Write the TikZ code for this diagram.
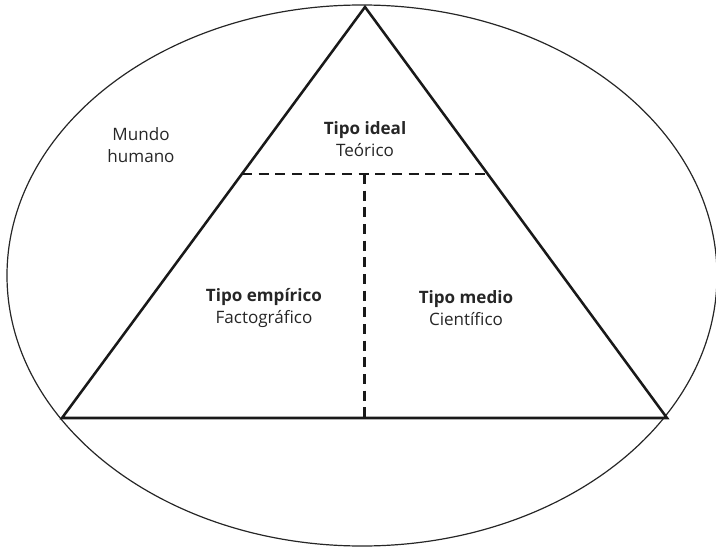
\documentclass[tikz,border=0pt]{standalone}
\usepackage{fontspec}
\setmainfont{Open Sans}
\begin{document}
\begin{tikzpicture}[x=0.75pt,y=-0.75pt,
  lbl/.style={align=center,inner sep=0pt,font=\fontsize{12.8pt}{17pt}\selectfont,text=black!85},
  tri/.style={line width=1.9pt,line join=miter,draw=black!90},
  dsh/.style={line width=1.7pt,draw=black!90,dash pattern=on 7.5pt off 5pt}]
\useasboundingbox (0,0) rectangle (716,549);
\draw[line width=0.9pt,draw=black!85] (362,275.5) ellipse [x radius=355, y radius=270.5];
\coordinate (A) at (365,7);
\coordinate (L) at (62,418);
\coordinate (R) at (667,418);
\coordinate (HL) at (242,174);
\coordinate (HR) at (488,174);
\coordinate (VT) at (364.5,174);
\coordinate (VB) at (364.5,418);
\draw[tri] (A) -- (L) -- (R) -- cycle;
\draw[dsh] (HL) -- (HR);
\draw[dsh] (VT) -- (VB);
\node[lbl] (ideal) at (365,139) {\textbf{Tipo ideal}\\Teórico};
\node[lbl] (mundo) at (141,145) {Mundo\\humano};
\node[lbl] (emp) at (264,308) {\textbf{Tipo empírico}\\Factográfico};
\node[lbl] (medio) at (466,308) {\textbf{Tipo medio}\\Científico};
\end{tikzpicture}
\end{document}
